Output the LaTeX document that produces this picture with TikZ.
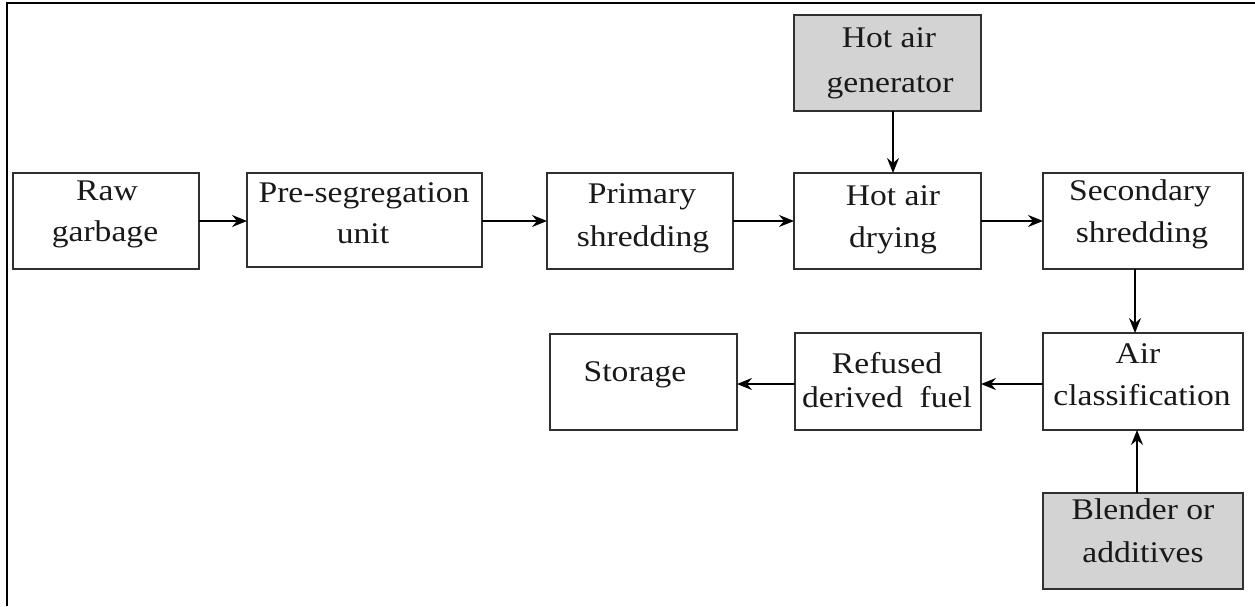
\documentclass[tikz,border=0pt]{standalone}
\usepackage{fontspec}
\setmainfont{Liberation Serif}
\newfontfamily\labelfont[FakeStretch=1.12]{Liberation Serif}
\usetikzlibrary{arrows.meta}

\definecolor{boxline}{HTML}{303030}
\definecolor{boxgray}{HTML}{D3D3D3}

\tikzset{
  stage/.style={draw=boxline, line width=1.4pt, inner sep=0pt, outer sep=0pt},
  feed/.style={stage, fill=boxgray},
  word/.style={anchor=base, inner sep=0pt, text=black!90, font=\labelfont\fontsize{30}{34}\selectfont},
  flow/.style={draw=black, line width=1.4pt, -{Stealth[length=15pt,width=12pt,inset=5pt]}},
  frame/.style={draw=black, line width=2pt}
}

\begin{document}
\begin{tikzpicture}[x=1pt, y=-1pt]
\useasboundingbox (0,0) rectangle (1255,606);

% page frame (top and left edges)
\coordinate (frameTL) at (7,3);
\coordinate (frameTR) at (1255,3);
\coordinate (frameBL) at (7,606);
\draw[frame] (frameTR) -- (frameTL) -- (frameBL);

% process stages
\node[stage, minimum width=186pt, minimum height=96pt] (raw)   at (106,221) {};
\node[stage, minimum width=235pt, minimum height=94pt] (pre)   at (364.5,220) {};
\node[stage, minimum width=186pt, minimum height=96pt] (prim)  at (640,221) {};
\node[stage, minimum width=187pt, minimum height=96pt] (dry)   at (887.5,221) {};
\node[stage, minimum width=200pt, minimum height=96pt] (sec)   at (1143,221) {};
\node[feed,  minimum width=187pt, minimum height=96pt] (gen)   at (887.5,63) {};
\node[stage, minimum width=187pt, minimum height=96pt] (stor)  at (643.5,382) {};
\node[stage, minimum width=186pt, minimum height=97pt] (ref)   at (888,381.5) {};
\node[stage, minimum width=200pt, minimum height=97pt] (air)   at (1143,381.5) {};
\node[feed,  minimum width=200pt, minimum height=96pt] (blend) at (1143,541) {};

% labels
\node[word] (raw1)   at (107,200) {Raw};
\node[word] (raw2)   at (105,241) {garbage};
\node[word] (pre1)   at (364,202) {Pre-segregation};
\node[word] (pre2)   at (363,243) {unit};
\node[word] (prim1)  at (642,203) {Primary};
\node[word] (prim2)  at (643,246) {shredding};
\node[word] (dry1)   at (893,205) {Hot air};
\node[word] (dry2)   at (893,247) {drying};
\node[word] (sec1)   at (1140,200) {Secondary};
\node[word] (sec2)   at (1142,242) {shredding};
\node[word] (gen1)   at (889,47)  {Hot air};
\node[word] (gen2)   at (890,92)  {generator};
\node[word] (stor1)  at (635,381) {Storage};
\node[word] (ref1)   at (887,373) {Refused};
\node[word] (ref2)   at (887,407) {derived\ \ fuel};
\node[word] (air1)   at (1138,363) {Air};
\node[word] (air2)   at (1142,405) {classification};
\node[word] (blend1) at (1143,519) {Blender or};
\node[word] (blend2) at (1143,562) {additives};

% material flow
\draw[flow] (raw.east)  -- (pre.west |- raw.east);
\draw[flow] (pre.east |- prim.west) -- (prim.west);
\draw[flow] (prim.east) -- (dry.west);
\draw[flow] (dry.east)  -- (sec.west);
\draw[flow] ([xshift=5.5pt]gen.south) -- ([xshift=5.5pt]dry.north);
\draw[flow] ([xshift=-8pt]sec.south) -- ([xshift=-8pt]air.north);
\draw[flow] ([yshift=-2.5pt]air.west) -- ([yshift=-2.5pt]ref.west -| ref.east);
\draw[flow] ([yshift=-2.5pt]ref.west) -- ([yshift=-2.5pt]ref.west -| stor.east);
\draw[flow] ([xshift=-6pt]blend.north) -- ([xshift=-6pt]air.south);
\end{tikzpicture}
\end{document}
